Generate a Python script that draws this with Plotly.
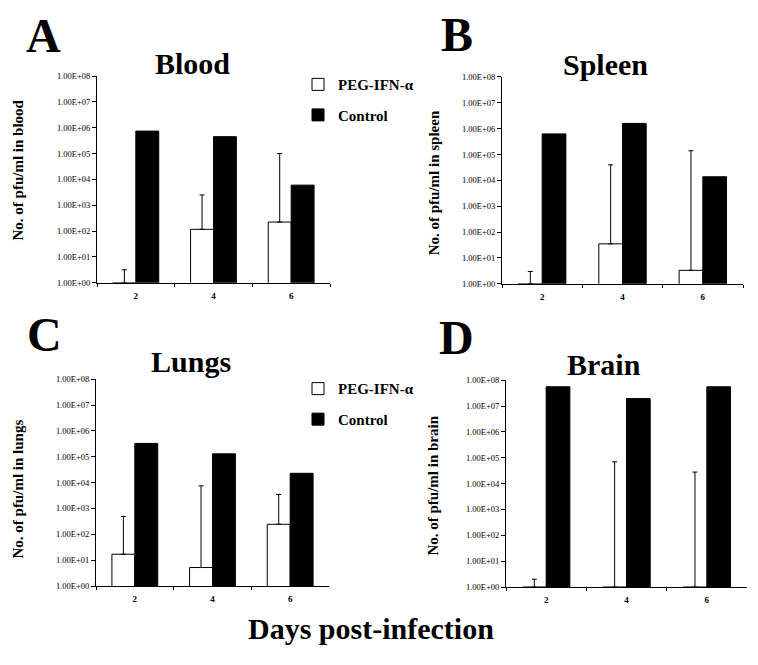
import plotly.graph_objects as go

W, H = 758, 665          # browser window
OFF = 8                  # default page (body) margin around the plot div
FW, FH = W - 2 * OFF, H - 2 * OFF

# ---------------- data ----------------
days = ["2", "4", "6"]

blood_peg = [1, 117, 224]
blood_peg_top = [3.2, 2500, 100000]
blood_ctrl = [740000, 450000, 6000]

spleen_peg = [1, 35, 3.3]
spleen_peg_top = [3.0, 40000, 140000]
spleen_ctrl = [630000, 1600000, 13800]

lungs_peg = [17, 5.2, 245]
lungs_peg_top = [490, 7500, 3500]
lungs_ctrl = [330000, 130000, 23000]

brain_peg = [1, 1, 1]
brain_peg_top = [2, 70000, 28000]
brain_ctrl = [56000000, 19500000, 56000000]

ytick_vals = [1, 10, 100, 1000, 1e4, 1e5, 1e6, 1e7, 1e8]
ytick_text = ["1.00E+00", "1.00E+01", "1.00E+02", "1.00E+03", "1.00E+04",
              "1.00E+05", "1.00E+06", "1.00E+07", "1.00E+08"]

panel_letters = ["A", "B", "C", "D"]
panel_titles = ["Blood", "Spleen", "Lungs", "Brain"]
panel_ylabels = ["No. of pfu/ml in blood", "No. of pfu/ml in spleen",
                 "No. of pfu/ml in lungs", "No. of pfu/ml in brain"]
series_names = ["PEG-IFN-α", "Control"]
xlabel = "Days post-infection"

# ---------------- layout helpers ----------------
SERIF = "Liberation Serif"


def px(x):
    return (x - OFF) / FW


def py(y):
    return 1 - (y - OFF) / FH


# pixel boxes (window coordinates) of each plot area: (left, right, top(1E+08), bottom(1E+00))
boxes = [(97, 330, 72, 282), (502, 743, 73, 283),
         (96, 329, 380, 590), (506, 747, 381, 591)]
letter_pos = [(43, 31), (457, 30), (44, 335), (457, 338)]
title_pos = [(192, 59), (605, 60), (191, 362), (604, 365)]
ylabel_pos = [(18, 168), (434, 181), (18, 492), (433, 488)]

peg_data = [blood_peg, spleen_peg, lungs_peg, brain_peg]
top_data = [blood_peg_top, spleen_peg_top, lungs_peg_top, brain_peg_top]
ctrl_data = [blood_ctrl, spleen_ctrl, lungs_ctrl, brain_ctrl]
legend_of = ["legend", None, "legend2", None]

fig = go.Figure()

for i in range(4):
    n = i + 1
    xa = "x" if n == 1 else f"x{n}"
    ya = "y" if n == 1 else f"y{n}"
    peg = peg_data[i]
    top = top_data[i]
    plus = [t - p for t, p in zip(top, peg)]
    show = legend_of[i] is not None
    lg = legend_of[i] if show else "legend"
    fig.add_trace(go.Bar(
        x=days, y=peg, name=series_names[0], xaxis=xa, yaxis=ya,
        marker=dict(color="white", line=dict(color="black", width=1)),
        error_y=dict(type="data", symmetric=False, array=plus,
                     arrayminus=[0, 0, 0], color="black", thickness=1, width=2.5),
        showlegend=show, legend=lg, legendgroup=f"peg{n}",
    ))
    fig.add_trace(go.Bar(
        x=days, y=ctrl_data[i], name=series_names[1], xaxis=xa, yaxis=ya,
        marker=dict(color="black", line=dict(color="black", width=1)),
        showlegend=show, legend=lg, legendgroup=f"ctrl{n}",
    ))

layout = dict(
    width=FW, height=FH,
    margin=dict(l=0, r=0, t=0, b=0),
    paper_bgcolor="white", plot_bgcolor="white",
    barmode="group", bargap=0.41, bargroupgap=0,
    font=dict(family=SERIF, color="black"),
)

for i in range(4):
    n = i + 1
    l, r, t, b = boxes[i]
    xk = "xaxis" if n == 1 else f"xaxis{n}"
    yk = "yaxis" if n == 1 else f"yaxis{n}"
    xa = "x" if n == 1 else f"x{n}"
    ya = "y" if n == 1 else f"y{n}"
    layout[xk] = dict(
        domain=[px(l), px(r)], anchor=ya, type="category",
        categoryorder="array", categoryarray=days, range=[-0.5, 2.5],
        tickson="boundaries", ticks="outside", ticklen=3, tickwidth=1,
        tickcolor="black", showline=True, linecolor="black", linewidth=1,
        showgrid=False, zeroline=False, fixedrange=True, ticklabelstandoff=4,
        tickfont=dict(family=SERIF, size=9, color="black", weight="bold"),
    )
    layout[yk] = dict(
        domain=[py(b), py(t)], anchor=xa, type="log", range=[0, 8],
        tickmode="array", tickvals=ytick_vals, ticktext=ytick_text,
        ticks="outside", ticklen=4, tickwidth=1, tickcolor="black",
        showline=True, linecolor="black", linewidth=1,
        showgrid=False, zeroline=False, fixedrange=True,
        tickfont=dict(family=SERIF, size=8.5, color="black"),
    )
    # overlay axes giving the crossing half of each tick mark
    m = n + 4
    layout[f"xaxis{m}"] = dict(
        overlaying=xa, anchor=ya, side="bottom", range=[-0.5, 2.5],
        tickmode="array", tickvals=[0.5, 1.5, 2.5], ticks="inside", ticklen=3,
        tickwidth=1, tickcolor="black", showticklabels=False, showline=False,
        showgrid=False, zeroline=False, fixedrange=True,
    )
    layout[f"yaxis{m}"] = dict(
        overlaying=ya, anchor=xa, side="left", type="log", range=[0, 8],
        tickmode="array", tickvals=ytick_vals, ticks="inside", ticklen=4,
        tickwidth=1, tickcolor="black", showticklabels=False, showline=False,
        showgrid=False, zeroline=False, fixedrange=True,
    )

legend_common = dict(
    xanchor="left", yanchor="top", bgcolor="rgba(0,0,0,0)",
    font=dict(family=SERIF, size=15, color="black", weight="bold"),
    traceorder="grouped", tracegroupgap=8, itemclick=False, itemdoubleclick=False,
)
layout["legend"] = dict(x=px(298), y=py(64), **legend_common)
layout["legend2"] = dict(x=px(298), y=py(373), **legend_common)

annotations = []
for i in range(4):
    lx, ly = letter_pos[i]
    annotations.append(dict(
        text=panel_letters[i], x=px(lx), y=py(ly), xref="paper", yref="paper",
        xanchor="center", yanchor="middle", showarrow=False,
        font=dict(family=SERIF, size=48, color="black", weight="bold")))
    tx, ty = title_pos[i]
    annotations.append(dict(
        text=panel_titles[i], x=px(tx), y=py(ty), xref="paper", yref="paper",
        xanchor="center", yanchor="middle", showarrow=False,
        font=dict(family=SERIF, size=30, color="black", weight="bold")))
    yx, yy = ylabel_pos[i]
    annotations.append(dict(
        text=panel_ylabels[i], x=px(yx), y=py(yy), xref="paper", yref="paper",
        xanchor="center", yanchor="middle", textangle=-90, showarrow=False,
        font=dict(family=SERIF, size=15, color="black", weight="bold")))
annotations.append(dict(
    text=xlabel, x=px(371), y=py(633), xref="paper", yref="paper",
    xanchor="center", yanchor="middle", showarrow=False,
    font=dict(family=SERIF, size=30, color="black", weight="bold")))
layout["annotations"] = annotations

fig.update_layout(**layout)
fig.write_html("out.html")
